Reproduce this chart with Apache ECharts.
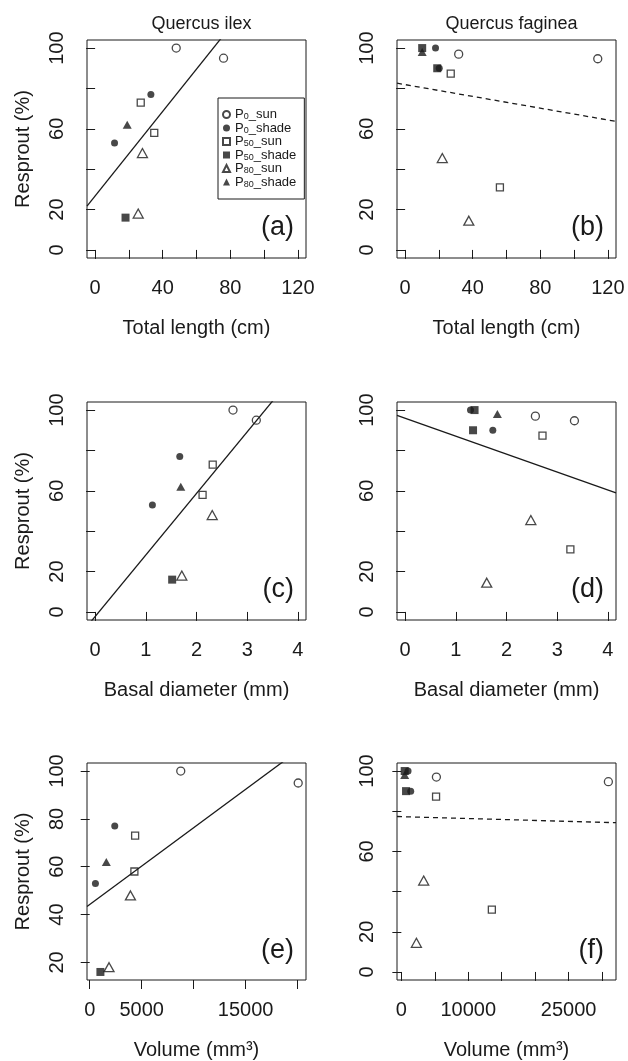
<!DOCTYPE html>
<html>
<head>
<meta charset="utf-8">
<script src="https://cdn.jsdelivr.net/npm/echarts@6/dist/echarts.min.js"></script>
<style>
  html, body { margin: 0; padding: 0; background: #fff; }
  #chart { width: 628px; height: 1061px; }
</style>
</head>
<body>
<div id="chart"></div>
<script>
// treatment groups
const groups = ['P0_sun', 'P0_shade', 'P50_sun', 'P50_shade', 'P80_sun', 'P80_shade'];

// Quercus ilex
const ilexGroup = ['P0_sun', 'P0_sun', 'P0_shade', 'P0_shade', 'P50_sun', 'P50_sun', 'P50_shade', 'P80_sun', 'P80_sun', 'P80_shade'];
const ilexResprout = [100, 95, 77, 53, 73, 58, 16, 48, 18, 62];
const ilexLength = [48, 76, 33, 11.5, 27, 35, 18, 28, 25.5, 19];
const ilexDiameter = [2.72, 3.18, 1.67, 1.13, 2.32, 2.12, 1.52, 2.31, 1.71, 1.69];
const ilexVolume = [8760, 20060, 2410, 550, 4370, 4300, 1030, 3920, 1860, 1600];

// Quercus faginea
const fagGroup = ['P0_sun', 'P0_sun', 'P0_shade', 'P0_shade', 'P50_sun', 'P50_sun', 'P50_shade', 'P50_shade', 'P80_sun', 'P80_sun', 'P80_shade'];
const fagResprout = [97, 94.7, 100, 90, 87.3, 31, 100, 90, 45.5, 14.5, 98];
const fagLength = [31.7, 114, 18, 20.2, 27, 56.1, 10.1, 19, 22, 37.7, 10.1];
const fagDiameter = [2.57, 3.34, 1.29, 1.73, 2.71, 3.26, 1.37, 1.34, 2.48, 1.61, 1.82];
const fagVolume = [5240, 30950, 1000, 1400, 5190, 13530, 500, 700, 3340, 2250, 500];

// fitted lines, panels a..f
const fitIntercept = [26.7, 81.9, -2.3, 96.0, 44.2, 77.3];
const fitSlope = [1.048, -0.146, 30.5, -8.89, 0.00321, -0.000094];
const fitDashed = [false, true, false, false, false, true];

// ticks
const lengthTicks = [0, 20, 40, 60, 80, 100, 120];
const lengthLabels = [0, 40, 80, 120];
const diameterTicks = [0, 1, 2, 3, 4];
const ilexVolumeTicks = [0, 5000, 10000, 15000, 20000];
const ilexVolumeLabels = [0, 5000, 15000];
const fagVolumeTicks = [0, 5000, 10000, 15000, 20000, 25000, 30000];
const fagVolumeLabels = [0, 10000, 25000];
const resproutTicks = [0, 20, 40, 60, 80, 100];
const resproutLabels = [0, 20, 60, 100];
const ilexVolResproutTicks = [20, 40, 60, 80, 100];

const FONT = '"Liberation Sans", Arial, sans-serif';
const INK = '#1a1a1a';

const symbolOf = {
  P0_sun: { symbol: 'circle', size: 8, filled: false },
  P0_shade: { symbol: 'circle', size: 7, filled: true },
  P50_sun: { symbol: 'rect', size: 7, filled: false },
  P50_shade: { symbol: 'rect', size: 8, filled: true },
  P80_sun: { symbol: 'triangle', size: [10, 9], filled: false },
  P80_shade: { symbol: 'triangle', size: [9, 8], filled: true }
};

const panels = [
  { x: ilexLength, y: ilexResprout, g: ilexGroup, xlim: [-4.8, 124.8], ylim: [-4, 104],
    xt: lengthTicks, xl: lengthLabels, yt: resproutTicks, yl: resproutLabels,
    xname: 'Total length (cm)', yname: 'Resprout (%)', left: 87, top: 40, tag: '(a)' },
  { x: fagLength, y: fagResprout, g: fagGroup, xlim: [-4.8, 124.8], ylim: [-4, 104],
    xt: lengthTicks, xl: lengthLabels, yt: resproutTicks, yl: resproutLabels,
    xname: 'Total length (cm)', yname: '', left: 397, top: 40, tag: '(b)' },
  { x: ilexDiameter, y: ilexResprout, g: ilexGroup, xlim: [-0.16, 4.16], ylim: [-4, 104],
    xt: diameterTicks, xl: diameterTicks, yt: resproutTicks, yl: resproutLabels,
    xname: 'Basal diameter (mm)', yname: 'Resprout (%)', left: 87, top: 402, tag: '(c)' },
  { x: fagDiameter, y: fagResprout, g: fagGroup, xlim: [-0.16, 4.16], ylim: [-4, 104],
    xt: diameterTicks, xl: diameterTicks, yt: resproutTicks, yl: resproutLabels,
    xname: 'Basal diameter (mm)', yname: '', left: 397, top: 402, tag: '(d)' },
  { x: ilexVolume, y: ilexResprout, g: ilexGroup, xlim: [-260, 20810], ylim: [12.64, 103.36],
    xt: ilexVolumeTicks, xl: ilexVolumeLabels, yt: ilexVolResproutTicks, yl: ilexVolResproutTicks,
    xname: 'Volume (mm³)', yname: 'Resprout (%)', left: 87, top: 763, tag: '(e)' },
  { x: fagVolume, y: fagResprout, g: fagGroup, xlim: [-650, 32090], ylim: [-4, 104],
    xt: fagVolumeTicks, xl: fagVolumeLabels, yt: resproutTicks, yl: resproutLabels,
    xname: 'Volume (mm³)', yname: '', left: 397, top: 763, tag: '(f)' }
];

const W = 219, H = 218;
const grid = [], xAxis = [], yAxis = [], series = [], graphic = [];
const plain = function (v) { return String(v); };

panels.forEach(function (p, i) {
  grid.push({ left: p.left, top: p.top, width: W, height: H, show: true,
    borderColor: INK, borderWidth: 1, backgroundColor: 'transparent' });
  xAxis.push({
    gridIndex: i, type: 'value', min: p.xlim[0], max: p.xlim[1],
    splitLine: { show: false }, axisLine: { show: false },
    axisTick: { show: true, length: 9, lineStyle: { color: INK, width: 1 }, customValues: p.xt },
    axisLabel: { color: INK, fontSize: 20, fontFamily: FONT, margin: 20, customValues: p.xl,
      formatter: plain },
    name: p.xname, nameLocation: 'middle', nameGap: 60,
    nameTextStyle: { color: INK, fontSize: 20, fontFamily: FONT }
  });
  yAxis.push({
    gridIndex: i, type: 'value', min: p.ylim[0], max: p.ylim[1],
    splitLine: { show: false }, axisLine: { show: false },
    axisTick: { show: true, length: 9, lineStyle: { color: INK, width: 1 }, customValues: p.yt },
    axisLabel: { color: INK, fontSize: 20, fontFamily: FONT, margin: 20, rotate: 90, customValues: p.yl,
      formatter: plain },
    name: p.yname, nameLocation: 'middle', nameGap: 54,
    nameTextStyle: { color: INK, fontSize: 20, fontFamily: FONT }
  });

  groups.forEach(function (g) {
    const s = symbolOf[g];
    const data = [];
    p.g.forEach(function (gg, k) { if (gg === g) data.push([p.x[k], p.y[k]]); });
    series.push({
      type: 'scatter', name: g, xAxisIndex: i, yAxisIndex: i,
      symbol: s.symbol, symbolSize: s.size, data: data, z: 3,
      itemStyle: s.filled
        ? { color: INK, borderWidth: 0 }
        : { color: 'rgba(255,255,255,0)', borderColor: INK, borderWidth: 1.3 }
    });
  });

  const x0 = p.xlim[0], x1 = p.xlim[1];
  series.push({
    type: 'line', name: 'fit', xAxisIndex: i, yAxisIndex: i, showSymbol: false, clip: true,
    silent: true, z: 2,
    data: [[x0, fitIntercept[i] + fitSlope[i] * x0], [x1, fitIntercept[i] + fitSlope[i] * x1]],
    lineStyle: { color: INK, width: 1.3, type: fitDashed[i] ? [5, 4] : 'solid' }
  });

  graphic.push({
    type: 'text', right: 628 - (p.left + W - 12), top: p.top + H - 44,
    style: { text: p.tag, fontSize: 27, fontFamily: FONT, fill: INK }
  });
});

const option = {
  animation: false,
  backgroundColor: '#fff',
  grid: grid, xAxis: xAxis, yAxis: yAxis, series: series,
  title: [
    { text: 'Quercus ilex', left: 87 + W / 2, top: 10, textAlign: 'center',
      textStyle: { fontSize: 18, fontWeight: 'normal', fontFamily: FONT, color: INK } },
    { text: 'Quercus faginea', left: 397 + W / 2, top: 10, textAlign: 'center',
      textStyle: { fontSize: 18, fontWeight: 'normal', fontFamily: FONT, color: INK } }
  ],
  legend: {
    data: groups, orient: 'vertical', left: 218, top: 98,
    padding: [10, 8, 10, 4], itemGap: 0, itemWidth: 7, itemHeight: 7,
    backgroundColor: '#fff', borderColor: INK, borderWidth: 1, borderRadius: 0,
    selectedMode: false, z: 10,
    formatter: function (name) {
      return name.replace(/^P(\d+)_(.*)$/, '{n|P}{s|$1}{n|_$2}');
    },
    textStyle: {
      color: INK, fontFamily: FONT,
      rich: {
        n: { fontSize: 13, lineHeight: 14, fontFamily: FONT, color: INK },
        s: { fontSize: 9, lineHeight: 9, verticalAlign: 'bottom', fontFamily: FONT, color: INK }
      }
    }
  },
  graphic: graphic
};

const chart = echarts.init(document.getElementById('chart'), null, { renderer: 'canvas' });
chart.setOption(option);
</script>
</body>
</html>
